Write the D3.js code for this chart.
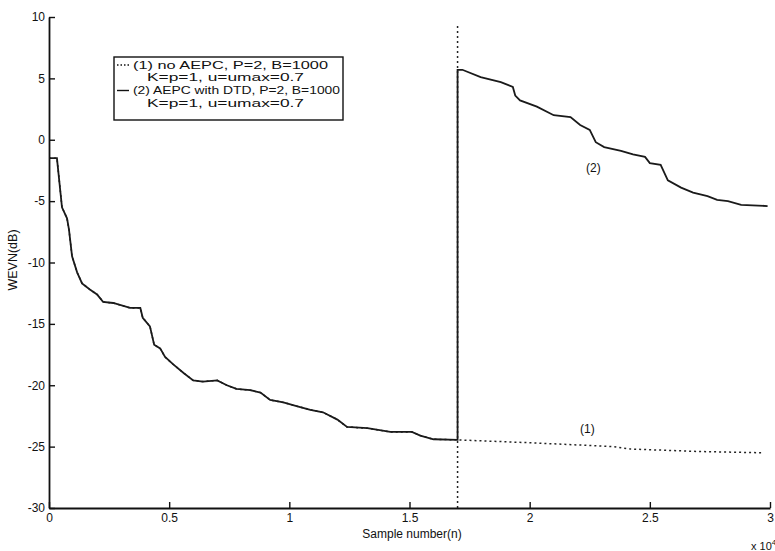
<!DOCTYPE html>
<html>
<head>
<meta charset="utf-8">
<script src="https://cdn.jsdelivr.net/npm/d3@7"></script>
<style>
  body { margin: 0; background: #fff; }
  text { font-family: "Liberation Sans", Arial, sans-serif; fill: #111; }
</style>
</head>
<body>
<svg id="chart" width="775" height="551"></svg>
<script>
// sample number in units of 10^4, WEVN in dB
// both curves follow the same path until the echo path change
var sharedX = [0, 0.033, 0.054, 0.075, 0.083, 0.096, 0.117, 0.1375, 0.17, 0.2, 0.225, 0.267, 0.3375, 0.38, 0.39,
  0.42, 0.4375, 0.4625, 0.483, 0.517, 0.56, 0.6, 0.64, 0.7, 0.74, 0.78, 0.8375, 0.88, 0.92, 0.975, 1.03, 1.0875,
  1.14, 1.2, 1.24, 1.325, 1.42, 1.51, 1.545, 1.6, 1.7];
var sharedY = [-1.5, -1.5, -5.5, -6.4, -7.3, -9.5, -10.8, -11.7, -12.2, -12.6, -13.2, -13.3, -13.7, -13.7, -14.5,
  -15.2, -16.7, -17.0, -17.7, -18.3, -19.0, -19.6, -19.7, -19.6, -20.0, -20.3, -20.4, -20.6, -21.2, -21.4, -21.7, -22.0,
  -22.2, -22.8, -23.4, -23.5, -23.8, -23.8, -24.1, -24.4, -24.45];

// (1) no AEPC after the change
var tail1X = [2.02, 2.35, 2.42, 2.57, 2.71, 2.97];
var tail1Y = [-24.7, -25.0, -25.2, -25.3, -25.4, -25.5];

// (2) AEPC with DTD after the change
var tail2X = [1.7, 1.72, 1.796, 1.88, 1.93, 1.94, 1.96, 2.03, 2.1, 2.17, 2.21, 2.25, 2.275, 2.31, 2.38, 2.43, 2.48,
  2.5, 2.545, 2.575, 2.63, 2.68, 2.74, 2.78, 2.825, 2.88, 2.99];
var tail2Y = [5.7, 5.7, 5.1, 4.7, 4.3, 3.6, 3.2, 2.7, 2.0, 1.85, 1.2, 0.8, -0.2, -0.6, -0.9, -1.2, -1.4,
  -1.9, -2.05, -3.3, -3.9, -4.3, -4.6, -4.9, -5.0, -5.3, -5.4];

var changeX = 1.7, changeTop = 9.5;

var xTicks = [0, 0.5, 1, 1.5, 2, 2.5, 3];
var yTicks = [-30, -25, -20, -15, -10, -5, 0, 5, 10];

var legendLabels = [
  ["(1) no AEPC, P=2, B=1000", "K=p=1, u=umax=0.7"],
  ["(2) AEPC with DTD, P=2, B=1000", "K=p=1, u=umax=0.7"]
];
// widths of the legend lines as printed (the scan's font is wide)
var legendWidths = [[195, 157], [207, 157]];

function pairs(xs, ys) {
  return xs.map(function(d, i) { return [d, ys[i]]; });
}
var series1 = pairs(sharedX, sharedY).concat(pairs(tail1X, tail1Y));
var series2 = pairs(sharedX, sharedY).concat(pairs(tail2X, tail2Y));

var svg = d3.select("#chart");

var x = d3.scaleLinear().domain([0, 3]).range([49, 770]);
var y = d3.scaleLinear().domain([-30, 10]).range([508, 17]);

var line = d3.line()
  .x(function(d) { return x(d[0]); })
  .y(function(d) { return y(d[1]); });

// echo path change marker
svg.append("line")
  .attr("x1", x(changeX)).attr("x2", x(changeX))
  .attr("y1", y(-30)).attr("y2", y(changeTop))
  .attr("stroke", "#222")
  .attr("stroke-width", 1.5)
  .attr("stroke-dasharray", "2,3");

svg.append("path")
  .datum(series1)
  .attr("d", line)
  .attr("fill", "none")
  .attr("stroke", "#222")
  .attr("stroke-width", 1.5)
  .attr("stroke-dasharray", "2,3");

svg.append("path")
  .datum(series2)
  .attr("d", line)
  .attr("fill", "none")
  .attr("stroke", "#1a1a1a")
  .attr("stroke-width", 1.8);

// axes, ticks pointing inward
var xAxis = svg.append("g")
  .attr("transform", "translate(0," + y(-30) + ")")
  .call(d3.axisBottom(x).tickValues(xTicks).tickSizeInner(-6).tickSizeOuter(0)
    .tickFormat(function(d) { return String(d); }));
xAxis.selectAll("text").attr("dy", "0.9em").style("font-size", "12px")
  .attr("font-family", "Liberation Sans, Arial, sans-serif");

var yAxis = svg.append("g")
  .attr("transform", "translate(" + x(0) + ",0)")
  .call(d3.axisLeft(y).tickValues(yTicks).tickSizeInner(-6).tickSizeOuter(0)
    .tickFormat(function(d) { return String(d); }));
yAxis.selectAll("text").attr("x", -4).style("font-size", "12px")
  .attr("font-family", "Liberation Sans, Arial, sans-serif");

svg.selectAll(".domain").attr("stroke", "#111").attr("stroke-width", 1.8);
svg.selectAll(".tick line").attr("stroke", "#111").attr("stroke-width", 1.4);

// axis labels
svg.append("text")
  .attr("x", 412).attr("y", 538)
  .attr("text-anchor", "middle")
  .style("font-size", "12px")
  .text("Sample number(n)");

var mult = svg.append("text")
  .attr("x", 751).attr("y", 550)
  .style("font-size", "11px");
mult.append("tspan").text("x 10");
mult.append("tspan").attr("dy", -5).style("font-size", "8px").text("4");

svg.append("text")
  .attr("transform", "translate(17,260) rotate(-90)")
  .attr("text-anchor", "middle")
  .style("font-size", "12.5px")
  .text("WEVN(dB)");

// curve labels
svg.append("text").attr("x", x(2.265)).attr("y", y(-0.6) + 25)
  .attr("text-anchor", "middle")
  .style("font-size", "12px").text("(2)");
svg.append("text").attr("x", x(2.24)).attr("y", y(-24.0) - 1)
  .attr("text-anchor", "middle")
  .style("font-size", "12px").text("(1)");

// legend
var legend = svg.append("g");
legend.append("rect")
  .attr("x", 114).attr("y", 57)
  .attr("width", 229).attr("height", 63)
  .attr("fill", "#fff")
  .attr("stroke", "#111")
  .attr("stroke-width", 1.4);

legendLabels.forEach(function(lbl, i) {
  var top = 65 + i * 25.5;
  legend.append("line")
    .attr("x1", 117).attr("x2", 129)
    .attr("y1", top).attr("y2", top)
    .attr("stroke", "#111")
    .attr("stroke-width", 1.4)
    .attr("stroke-dasharray", i === 0 ? "1.5,2" : null);
  legend.append("text")
    .attr("x", 133).attr("y", top + 3.5)
    .attr("textLength", legendWidths[i][0])
    .attr("lengthAdjust", "spacingAndGlyphs")
    .style("font-size", "10.5px")
    .text(lbl[0]);
  legend.append("text")
    .attr("x", 147).attr("y", top + 16)
    .attr("textLength", legendWidths[i][1])
    .attr("lengthAdjust", "spacingAndGlyphs")
    .style("font-size", "10.5px")
    .text(lbl[1]);
});
</script>
</body>
</html>
